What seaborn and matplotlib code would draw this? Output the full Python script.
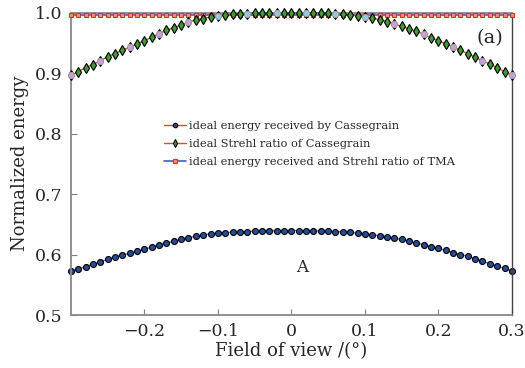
import numpy as np
import pandas as pd
import matplotlib
matplotlib.use("Agg")
import matplotlib.pyplot as plt
import seaborn as sns

# ---- data ----
fov = [round(-0.30 + 0.01 * i, 2) for i in range(61)]

energy_cass = [
    0.572, 0.576, 0.580, 0.584, 0.588, 0.592, 0.596, 0.599, 0.602, 0.605,
    0.609, 0.612, 0.616, 0.619, 0.622, 0.625, 0.628, 0.630, 0.632, 0.634,
    0.635, 0.636, 0.637, 0.6375, 0.638, 0.6385, 0.639, 0.639, 0.6393, 0.6395,
    0.6395,
    0.6395, 0.6393, 0.639, 0.6388, 0.6385, 0.638, 0.6373, 0.6365, 0.6355, 0.634,
    0.6325, 0.631, 0.629, 0.627, 0.625, 0.622, 0.619, 0.616, 0.613, 0.610,
    0.607, 0.603, 0.600, 0.597, 0.593, 0.589, 0.585, 0.581, 0.577, 0.572,
]

strehl_cass = [
    0.896, 0.902, 0.909, 0.914, 0.920, 0.927, 0.932, 0.9375, 0.943, 0.948,
    0.9534, 0.959, 0.965, 0.9705, 0.975, 0.979, 0.984, 0.988, 0.990, 0.9926,
    0.994, 0.996, 0.997, 0.9975, 0.998, 0.9985, 0.9987, 0.9988, 0.9988, 0.9988,
    0.9988,
    0.9988, 0.9988, 0.9988, 0.9987, 0.9985, 0.998, 0.9975, 0.996, 0.995, 0.9926,
    0.991, 0.988, 0.985, 0.981, 0.977, 0.973, 0.969, 0.964, 0.958, 0.9534,
    0.948, 0.943, 0.9375, 0.932, 0.926, 0.920, 0.915, 0.909, 0.902, 0.896,
]

tma = [0.9965] * 61

labels = [
    "ideal energy received by Cassegrain",
    "ideal Strehl ratio of Cassegrain",
    "ideal energy received and Strehl ratio of TMA",
]

xticks = [-0.2, -0.1, 0, 0.1, 0.2, 0.3]
xticklabels = ["\u22120.2", "\u22120.1", "0", "0.1", "0.2", "0.3"]
yticks = [0.5, 0.6, 0.7, 0.8, 0.9, 1.0]
yticklabels = ["0.5", "0.6", "0.7", "0.8", "0.9", "1.0"]

df = pd.DataFrame({"fov": fov, "energy": energy_cass, "strehl": strehl_cass, "tma": tma})
overlay = df.iloc[::4]
overlay_hi = overlay[overlay["strehl"] > 0.992]
overlay_lo = overlay[overlay["strehl"] <= 0.992]

# ---- plot ----
sns.set_theme(style="white")
plt.rcParams["font.family"] = ["DejaVu Serif"]
plt.rcParams["mathtext.fontset"] = "dejavuserif"

fig = plt.figure(figsize=(5.25, 3.68), dpi=100)
ax = fig.add_axes([0.135, 0.144, 0.84, 0.822])

red = "#f0403a"
sns.lineplot(data=df, x="fov", y="energy", ax=ax, color=red, lw=1.0,
             marker="o", markersize=4.3, markerfacecolor="#1f4e9c",
             markeredgecolor="black", markeredgewidth=0.8, label=labels[0],
             clip_on=False)
sns.lineplot(data=df, x="fov", y="strehl", ax=ax, color=red, lw=1.0,
             marker="d", markersize=5.5, markerfacecolor="#3aa02a",
             markeredgecolor="black", markeredgewidth=0.8, label=labels[1],
             clip_on=False, zorder=4)
sns.lineplot(data=df, x="fov", y="tma", ax=ax, color="#3a5fcd", lw=1.2,
             marker="s", markersize=3.2, markerfacecolor="#ff9070",
             markeredgecolor="#e8301c", markeredgewidth=0.8, label=labels[2],
             clip_on=False, zorder=3)
ax.plot(overlay_lo["fov"], overlay_lo["strehl"], ls="none", marker="o",
        ms=4.5, mfc="#c8a0d8", mec="#a0a0a0", mew=0.6, zorder=5, clip_on=False)
ax.plot(overlay_hi["fov"], overlay_hi["strehl"], ls="none", marker="o",
        ms=4.5, mfc="#90cce0", mec="#a0a0a0", mew=0.6, zorder=5, clip_on=False)

ax.set_xlim(-0.3, 0.3)
ax.set_ylim(0.5, 1.0)
ax.set_xticks(xticks)
ax.set_xticklabels(xticklabels)
ax.set_yticks(yticks)
ax.set_yticklabels(yticklabels)
ax.tick_params(direction="in", length=4, width=0.8, color="#808080",
               labelsize=12.5, pad=6, top=False, right=False, left=True, bottom=True)
ax.set_xlabel("Field of view /(\u00b0)", fontsize=13, labelpad=1)
ax.set_ylabel("Normalized energy", fontsize=13, labelpad=4)

for side in ["left", "bottom", "top"]:
    ax.spines[side].set_color("#888888")
    ax.spines[side].set_linewidth(1.3)
ax.spines["right"].set_color("#444444")
ax.spines["right"].set_linewidth(1.0)

ax.text(0.015, 0.578, "A", fontsize=12, ha="center", va="center")
ax.text(0.27, 0.958, "(a)", fontsize=14, ha="center", va="center")

leg = ax.legend(loc="upper left", bbox_to_anchor=(0.2, 0.655), frameon=False,
                fontsize=8.2, handlelength=2.0, handletextpad=0.2,
                labelspacing=0.7, borderaxespad=0, markerscale=0.75)

fig.savefig("out.png", dpi=100, facecolor="white")
